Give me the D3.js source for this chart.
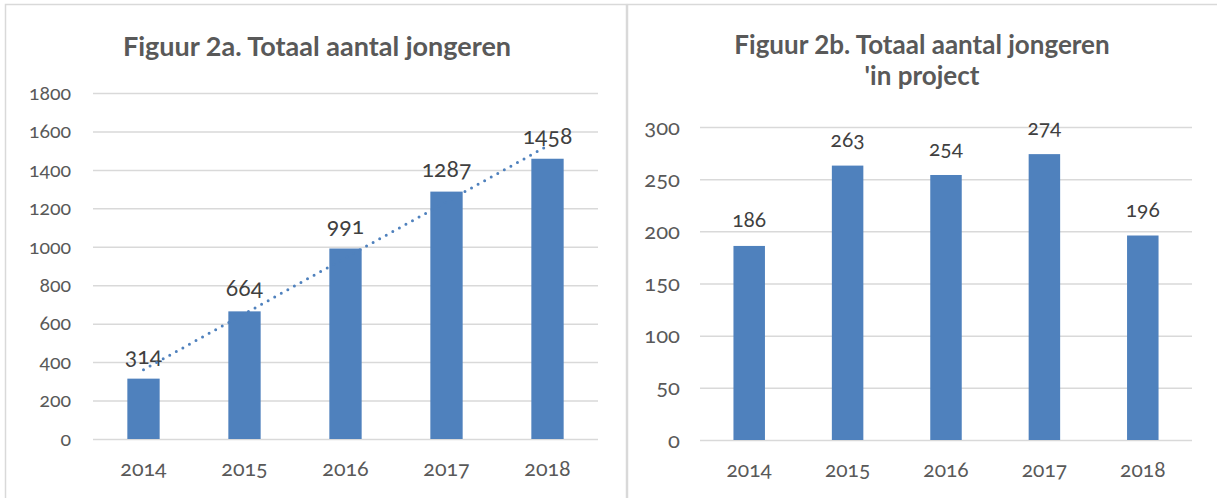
<!DOCTYPE html>
<html><head><meta charset="utf-8">
<script src="https://cdn.jsdelivr.net/npm/d3@7"></script>
<style>
html,body{margin:0;padding:0;background:#fff;}
svg{display:block;}
</style></head>
<body>
<svg id="c" width="1217" height="498"></svg>
<script>
const categories = ["2014","2015","2016","2017","2018"];
const valuesA = [314, 664, 991, 1287, 1458];
const valuesB = [186, 263, 254, 274, 196];
const ticksA = [0,200,400,600,800,1000,1200,1400,1600,1800];
const ticksB = [0,50,100,150,200,250,300];
const titleA = ["Figuur 2a. Totaal aantal jongeren"];
const titleB = ["Figuur 2b. Totaal aantal jongeren", "'in project"];

const svg = d3.select("#c");
const txt = "#595959", grid = "#d9d9d9", bar = "#4f81bd";

// panel borders
svg.append("rect").attr("x",5.5).attr("y",4.5).attr("width",621).attr("height",500)
  .attr("fill","none").attr("stroke",grid).attr("stroke-width",1.5);
svg.append("rect").attr("x",627.5).attr("y",4.5).attr("width",600).attr("height",500)
  .attr("fill","none").attr("stroke",grid).attr("stroke-width",1.5);

function panel(o){
  const g = svg.append("g");
  const x = d3.scaleBand().domain(categories).range([o.x0,o.x1]).paddingInner(o.pad).paddingOuter(o.pad/2);
  const y = d3.scaleLinear().domain([0,o.max]).range([o.y0,o.y1]);
  o.title.forEach((t,i)=>{
    g.append("text").attr("x",o.tx).attr("y",o.ty+i*o.tlh).attr("text-anchor","middle")
      .attr("font-family",o.font).attr("font-weight","bold").attr("font-size",o.tfs)
      .attr("fill",txt).text(t);
  });
  const ya = d3.axisLeft(y).tickValues(o.ticks).tickFormat(d3.format("d"))
    .tickSize(-(o.x1-o.x0)).tickPadding(o.tp);
  const ag = g.append("g").attr("transform",`translate(${o.x0},0)`).call(ya);
  ag.select(".domain").remove();
  ag.selectAll(".tick line").attr("stroke",grid).attr("stroke-width",1.5);
  ag.selectAll(".tick text").attr("font-family",o.font).attr("font-size",o.fs).attr("fill",txt)
    .style("font-variant-numeric","oldstyle-nums");
  const xa = d3.axisBottom(x).tickSize(0).tickPadding(o.xp);
  const xg = g.append("g").attr("transform",`translate(0,${o.y0})`).call(xa);
  xg.select(".domain").remove();
  xg.selectAll(".tick text").attr("font-family",o.font).attr("font-size",o.xfs).attr("fill",txt)
    .style("font-variant-numeric","oldstyle-nums");
  g.selectAll("rect.bar").data(o.values).join("rect").attr("class","bar")
    .attr("x",(d,i)=>x(categories[i])).attr("width",x.bandwidth())
    .attr("y",d=>y(d)).attr("height",d=>o.y0-y(d)).attr("fill",bar);
  g.selectAll("text.lbl").data(o.values).join("text").attr("class","lbl")
    .attr("x",(d,i)=>x(categories[i])+x.bandwidth()/2).attr("y",d=>y(d)-o.lo)
    .attr("text-anchor","middle").attr("font-family",o.font).attr("font-size",o.lfs)
    .attr("fill","#404040").style("font-variant-numeric","oldstyle-nums").text(d=>d);
  return {g,x,y};
}

const A = panel({x0:93,x1:598,y0:439,y1:93,max:1800,pad:0.68,values:valuesA,ticks:ticksA,
  title:titleA,tx:317,ty:56,tlh:31,tfs:27,font:"Lato, 'Open Sans', sans-serif",fs:19.5,xfs:21.5,lfs:23,tp:22,xp:22,lo:15});
const B = panel({x0:700,x1:1192,y0:440,y1:127,max:300,pad:0.68,values:valuesB,ticks:ticksB,
  title:titleB,tx:922,ty:54,tlh:31,tfs:26,font:"Lato, 'Open Sans', sans-serif",fs:22,xfs:21,lfs:21,tp:20,xp:22,lo:19});

// linear trendline for panel A (least squares over category index)
const n = valuesA.length;
const xs = valuesA.map((d,i)=>i);
const mx = d3.mean(xs), my = d3.mean(valuesA);
const slope = d3.sum(xs.map((xv,i)=>(xv-mx)*(valuesA[i]-my)))/d3.sum(xs.map(xv=>(xv-mx)**2));
const icpt = my - slope*mx;
const cx = i => A.x(categories[i]) + A.x.bandwidth()/2;
A.g.append("line")
  .attr("x1",cx(0)).attr("y1",A.y(icpt))
  .attr("x2",cx(n-1)).attr("y2",A.y(icpt+slope*(n-1)))
  .attr("stroke",bar).attr("stroke-width",3).attr("stroke-linecap","round")
  .attr("stroke-dasharray","0 7.5");
</script>
</body></html>
